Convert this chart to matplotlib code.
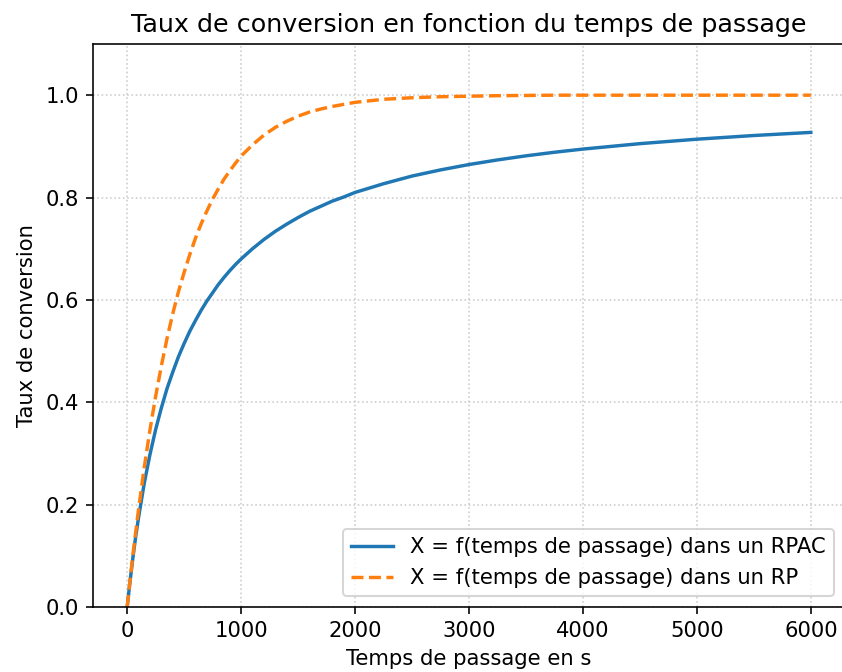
import matplotlib
matplotlib.use("Agg")
import matplotlib.pyplot as plt

# Temps de passage (s) and conversion values
tau = [0, 25, 50, 75, 100, 150, 200, 250, 300, 350, 400, 450, 500, 550, 600,
       650, 700, 750, 800, 850, 900, 950, 1000, 1100, 1200, 1300, 1400, 1500,
       1600, 1700, 1800, 1900, 2000, 2250, 2500, 2750, 3000, 3250, 3500,
       3750, 4000, 4500, 5000, 5500, 6000]
x_rpac = [0.000, 0.050, 0.096, 0.138, 0.175, 0.242, 0.298, 0.347, 0.389,
          0.427, 0.459, 0.489, 0.515, 0.539, 0.560, 0.580, 0.598, 0.614,
          0.630, 0.644, 0.657, 0.669, 0.680, 0.700, 0.718, 0.734, 0.748,
          0.761, 0.773, 0.783, 0.793, 0.801, 0.810, 0.827, 0.842, 0.854,
          0.8645, 0.8735, 0.8815, 0.8885, 0.8947, 0.9053, 0.914, 0.9212,
          0.9273]
x_rp = [0.000, 0.052, 0.101, 0.147, 0.191, 0.273, 0.346, 0.412, 0.471,
        0.525, 0.573, 0.616, 0.654, 0.689, 0.721, 0.749, 0.774, 0.797,
        0.817, 0.836, 0.852, 0.867, 0.881, 0.903, 0.922, 0.937, 0.949,
        0.959, 0.967, 0.973, 0.978, 0.982, 0.986, 0.992, 0.995, 0.997,
        0.998, 0.999, 0.9995, 1.000, 1.000, 1.000, 1.000, 1.000, 1.000]

labels = ["X = f(temps de passage) dans un RPAC",
          "X = f(temps de passage) dans un RP"]

DPI = 145
fig = plt.figure(figsize=(842 / DPI, 672 / DPI), dpi=DPI)
ax = fig.add_axes([93 / 842, 65 / 672, (845 - 93) / 842, (607 - 44) / 672])

ax.plot(tau, x_rpac, color="#1f77b4", linestyle="-", linewidth=1.7,
        label=labels[0])
ax.plot(tau, x_rp, color="#ff7f0e", linestyle=(0, (3.5, 1.6)), linewidth=1.7,
        label=labels[1])

ax.set_xlim(-300, 6300)
ax.set_ylim(0, 1.1)
ax.set_yticks([0.0, 0.2, 0.4, 0.6, 0.8, 1.0])
ax.set_xticks([0, 1000, 2000, 3000, 4000, 5000, 6000])
ax.tick_params(labelsize=10.5)
ax.grid(True, linestyle=":", color="#cccccc", linewidth=0.8)

ax.set_title("Taux de conversion en fonction du temps de passage", fontsize=12.6)
ax.set_xlabel("Temps de passage en s", fontsize=10.5)
ax.set_ylabel("Taux de conversion", fontsize=10.5)
ax.legend(loc="lower right", fontsize=10.5)

fig.savefig("out.png", dpi=DPI)
